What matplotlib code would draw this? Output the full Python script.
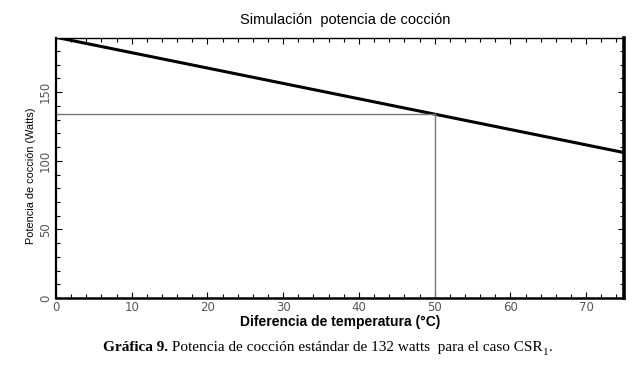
import matplotlib
matplotlib.use('Agg')
from matplotlib import pyplot as plt
from matplotlib.ticker import MultipleLocator

# Data
temp_diff = [0, 10, 20, 30, 40, 50, 60, 70, 75]
potencia = [190.0, 178.8, 167.6, 156.4, 145.2, 134.0, 122.8, 111.6, 106.0]
ref_x = 50
ref_y = 134.0

fig = plt.figure(figsize=(6.34, 3.67), dpi=100)
ax = fig.add_axes([56 / 634, (367 - 298) / 367, 568 / 634, 260 / 367])

ax.plot(temp_diff, potencia, color='black', lw=2.2, solid_capstyle='butt')

# reference lines at 50 °C
ax.plot([0, ref_x], [ref_y, ref_y], color='#777777', lw=1)
ax.plot([ref_x, ref_x], [0, ref_y], color='#777777', lw=1)

ax.set_xlim(0, 75)
ax.set_ylim(0, 189.5)
ax.xaxis.set_major_locator(MultipleLocator(10))
ax.xaxis.set_minor_locator(MultipleLocator(2))
ax.yaxis.set_major_locator(MultipleLocator(50))
ax.yaxis.set_minor_locator(MultipleLocator(10))
ax.tick_params(which='both', direction='in', top=True, right=True,
               width=0.8, colors='black', labelcolor='#555555', labelsize=8.5)
ax.tick_params(which='major', length=4, pad=3)
ax.tick_params(axis='x', which='major', pad=2)
ax.tick_params(which='minor', length=3)
for lab in ax.get_yticklabels():
    lab.set_rotation(90)
    lab.set_va('center')

ax.spines['left'].set_linewidth(1.6)
ax.spines['bottom'].set_linewidth(1.8)
ax.spines['right'].set_linewidth(2.6)
ax.spines['top'].set_linewidth(1.0)

ax.set_xlabel('Diferencia de temperatura (°C)', fontsize=10, fontweight='bold',
              family='Liberation Sans', labelpad=1)
ax.set_ylabel('Potencia de cocción (Watts)', fontsize=7.8, family='Liberation Sans')
ax.yaxis.set_label_coords(-0.036, 0.47)
fig.text(0.545, 0.945, 'Simulación  potencia de cocción', ha='center', va='center',
         fontsize=10.5, family='Liberation Sans')

cap = fig.text(0.163, 0.052, 'Gráfica 9.', ha='left', va='center', fontsize=11,
               family='Liberation Serif', fontweight='bold')
fig.canvas.draw()
bb = cap.get_window_extent()
x1 = bb.x1 / fig.bbox.width
cap2 = fig.text(x1, 0.052, ' Potencia de cocción estándar de 132 watts  para el caso CSR',
                ha='left', va='center', fontsize=11, family='Liberation Serif')
bb2 = cap2.get_window_extent()
x2 = bb2.x1 / fig.bbox.width
cap3 = fig.text(x2, 0.040, '1', ha='left', va='center', fontsize=8,
                family='Liberation Serif')
bb3 = cap3.get_window_extent()
fig.text(bb3.x1 / fig.bbox.width, 0.052, '.', ha='left', va='center', fontsize=11,
         family='Liberation Serif')

fig.savefig('out.png', dpi=100)
plt.close()
